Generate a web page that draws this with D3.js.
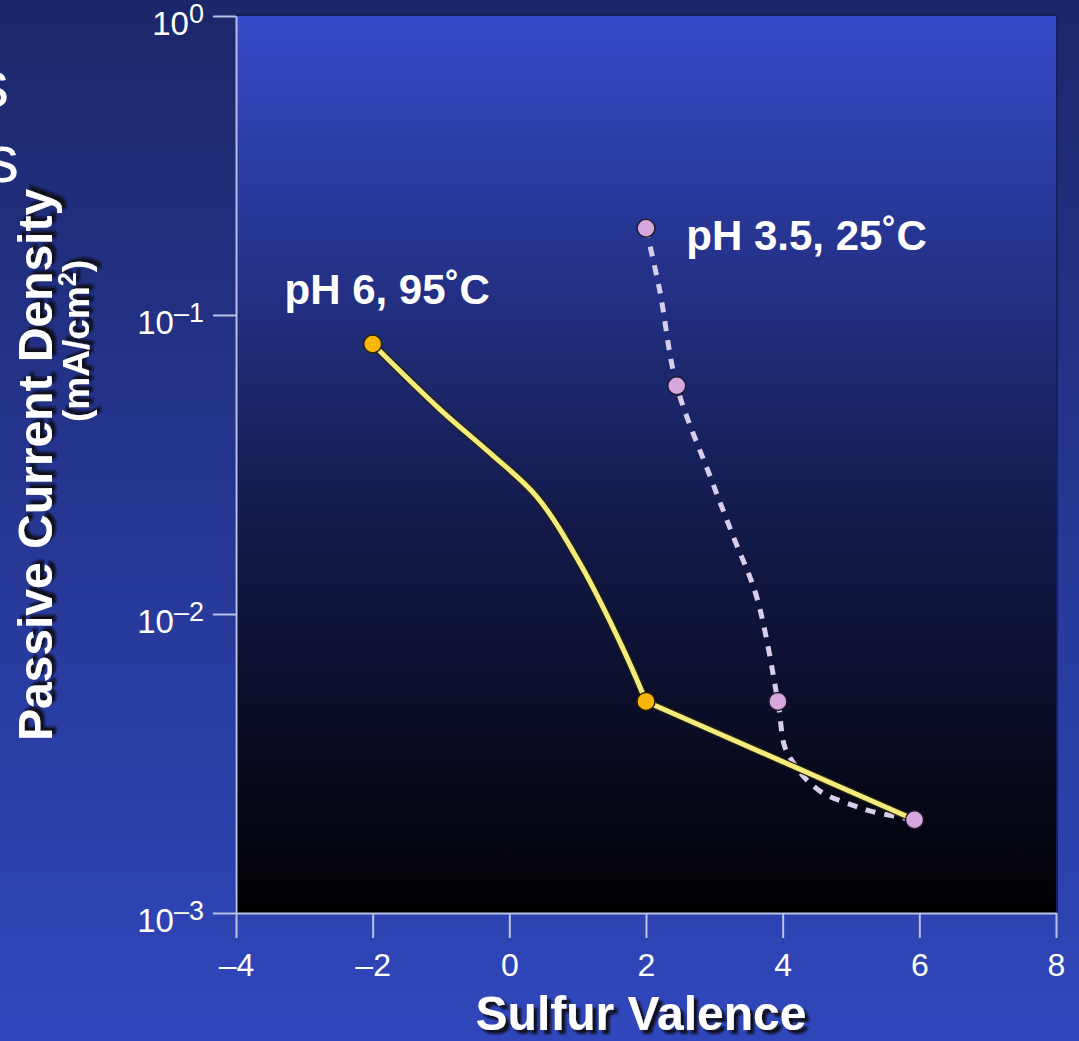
<!DOCTYPE html>
<html>
<head>
<meta charset="utf-8">
<script src="https://cdn.jsdelivr.net/npm/d3@7"></script>
<style>
  html, body { margin: 0; padding: 0; overflow: hidden; }
  body { width: 1079px; height: 1041px; }
  text { font-family: "Liberation Sans", Arial, Helvetica, sans-serif; fill: #fff; }
  .tick text { font-size: 32px; }
</style>
</head>
<body>
<div id="chart"></div>
<script>
var svgWidth = 1079;
var svgHeight = 1041;

var margin = { top: 16, right: 23, bottom: 128, left: 236 };
var width = svgWidth - margin.left - margin.right;
var height = svgHeight - margin.top - margin.bottom;

// tick values
var xTicks = [-4, -2, 0, 2, 4, 6, 8];
var yTicks = [1, 0.1, 0.01, 0.001];

// pH 6, 95˚C  (solid yellow)
var hotPointsX = [-2, 2];
var hotPointsY = [0.08, 0.0051];
// curved part
var hotCurveX = [-2, -1.0, -0.28, 0.4, 1.03, 1.67, 2];
var hotCurveY = [0.08, 0.048, 0.0345, 0.0247, 0.0148, 0.0076, 0.0051];
// straight tail
var hotTailX = [2, 5.93];
var hotTailY = [0.0051, 0.00205];

// pH 3.5, 25˚C  (dashed lavender)
var coldPointsX = [2.0, 2.45, 3.93, 5.93];
var coldPointsY = [0.195, 0.058, 0.0051, 0.00205];
var coldLineX = [2.0, 2.2, 2.45, 2.94, 3.28, 3.62, 3.93, 4.03, 4.16, 4.35, 4.6, 4.94, 5.33, 5.93];
var coldLineY = [0.195, 0.121, 0.058, 0.0288, 0.0181, 0.0114, 0.0051, 0.0036, 0.00317, 0.00279, 0.00251, 0.00233, 0.00218, 0.00205];

var svg = d3.select("#chart")
  .append("svg")
  .attr("width", svgWidth)
  .attr("height", svgHeight);

var defs = svg.append("defs");

var bg = defs.append("linearGradient").attr("id", "bgGrad")
  .attr("x1", 0).attr("y1", 0).attr("x2", 0).attr("y2", 1);
bg.append("stop").attr("offset", "0%").attr("stop-color", "#1c276a");
bg.append("stop").attr("offset", "100%").attr("stop-color", "#3047bc");

var plotGrad = defs.append("linearGradient").attr("id", "plotGrad")
  .attr("x1", 0).attr("y1", 0).attr("x2", 0).attr("y2", 1);
plotGrad.append("stop").attr("offset", "0%").attr("stop-color", "#364ac9");
plotGrad.append("stop").attr("offset", "55%").attr("stop-color", "#141b4d");
plotGrad.append("stop").attr("offset", "100%").attr("stop-color", "#010103");

var shadow = defs.append("filter").attr("id", "shadow")
  .attr("x", "-10%").attr("y", "-10%").attr("width", "130%").attr("height", "130%");
shadow.append("feDropShadow")
  .attr("dx", 4).attr("dy", 4).attr("stdDeviation", 1.2)
  .attr("flood-color", "#0a0a14").attr("flood-opacity", 0.95);

svg.append("rect")
  .attr("width", svgWidth).attr("height", svgHeight)
  .attr("fill", "url(#bgGrad)");

// cut-off slide text on the left edge
svg.append("text").attr("x", 9).attr("y", 107)
  .attr("text-anchor", "end").style("font-size", "66px").text("s");
svg.append("text").attr("x", 19).attr("y", 182)
  .attr("text-anchor", "end").style("font-size", "66px").text("s");

var chartGroup = svg.append("g")
  .attr("transform", `translate(${margin.left}, ${margin.top})`);

var xScale = d3.scaleLinear()
  .domain([-4, 8])
  .range([0, width]);

var yScale = d3.scaleLog()
  .domain([0.001, 1])
  .range([height, 0]);

// plot panel
chartGroup.append("rect")
  .attr("x", -1).attr("y", -2)
  .attr("width", width + 3).attr("height", height + 2)
  .attr("fill", "#16205a");
chartGroup.append("rect")
  .attr("width", width).attr("height", height)
  .attr("fill", "url(#plotGrad)");

// axes
var bottomAxis = d3.axisBottom(xScale)
  .tickValues(xTicks)
  .tickSize(25)
  .tickSizeOuter(0)
  .tickPadding(8)
  .tickFormat(d => d < 0 ? "\u2013" + Math.abs(d) : d);

var leftAxis = d3.axisLeft(yScale)
  .tickValues(yTicks)
  .tickSize(23)
  .tickSizeOuter(0)
  .tickFormat("");

var xAxisG = chartGroup.append("g")
  .attr("transform", `translate(0, ${height})`)
  .call(bottomAxis);

var yAxisG = chartGroup.append("g")
  .call(leftAxis);

[xAxisG, yAxisG].forEach(function(g) {
  g.select(".domain").attr("stroke", "#b9c1e6").attr("stroke-width", 2);
  g.selectAll(".tick line").attr("stroke", "#b9c1e6").attr("stroke-width", 2);
});
xAxisG.selectAll(".tick text").attr("fill", "#fff").style("font-size", "32px").attr("dy", "0.95em");

// y tick labels as 10^n
yAxisG.selectAll(".tick").each(function(d) {
  var exp = Math.round(Math.log10(d));
  var t = d3.select(this).append("text")
    .attr("x", -32)
    .attr("y", 18)
    .attr("text-anchor", "end")
    .attr("fill", "#fff");
  t.append("tspan").style("font-size", "33px").text("10");
  t.append("tspan").style("font-size", "27px").attr("dy", -12)
    .text(exp < 0 ? "\u2013" + Math.abs(exp) : exp);
});

// series lines
var coldLine = coldLineX.map((v, i) => [v, coldLineY[i]]);
var hotCurve = hotCurveX.map((v, i) => [v, hotCurveY[i]]);
var hotTail = hotTailX.map((v, i) => [v, hotTailY[i]]);

var smoothLine = d3.line()
  .x(d => xScale(d[0]))
  .y(d => yScale(d[1]))
  .curve(d3.curveCatmullRom.alpha(0.5));

chartGroup.append("path")
  .datum(coldLine)
  .attr("d", smoothLine)
  .attr("fill", "none")
  .attr("stroke", "#d8cdea")
  .attr("stroke-width", 5)
  .attr("stroke-dasharray", "10,9");

var hotPaths = [smoothLine(hotCurve), d3.line().x(d => xScale(d[0])).y(d => yScale(d[1]))(hotTail)];
[["#2a2410", 7.5], ["#f3eb7c", 5]].forEach(function(s) {
  chartGroup.selectAll(null)
    .data(hotPaths)
    .enter()
    .append("path")
    .attr("d", d => d)
    .attr("fill", "none")
    .attr("stroke", s[0])
    .attr("stroke-width", s[1])
    .attr("stroke-linejoin", "round");
});

// markers
chartGroup.selectAll("circle.hot")
  .data(hotPointsX.map((v, i) => [v, hotPointsY[i]]))
  .enter()
  .append("circle")
  .attr("class", "hot")
  .attr("cx", d => xScale(d[0]))
  .attr("cy", d => yScale(d[1]))
  .attr("r", 9)
  .attr("fill", "#f8b60a")
  .attr("stroke", "#2b2208")
  .attr("stroke-width", 1.5);

chartGroup.selectAll("circle.cold")
  .data(coldPointsX.map((v, i) => [v, coldPointsY[i]]))
  .enter()
  .append("circle")
  .attr("class", "cold")
  .attr("cx", d => xScale(d[0]))
  .attr("cy", d => yScale(d[1]))
  .attr("r", 9)
  .attr("fill", "#d6a7dd")
  .attr("stroke", "#201a30")
  .attr("stroke-width", 1.5);

// series labels
chartGroup.append("text")
  .attr("x", xScale(-3.29))
  .attr("y", 288)
  .style("font-size", "42px")
  .style("font-weight", "bold")
  .text("pH 6, 95˚C");

chartGroup.append("text")
  .attr("x", xScale(2.59))
  .attr("y", 234)
  .style("font-size", "42px")
  .style("font-weight", "bold")
  .text("pH 3.5, 25˚C");

// axis titles
svg.append("text")
  .attr("x", 641)
  .attr("y", 1030)
  .attr("text-anchor", "middle")
  .attr("filter", "url(#shadow)")
  .style("font-size", "48px")
  .style("font-weight", "bold")
  .text("Sulfur Valence");

svg.append("text")
  .attr("transform", "translate(52, 465) rotate(-90)")
  .attr("text-anchor", "middle")
  .attr("filter", "url(#shadow)")
  .style("font-size", "48px")
  .style("font-weight", "bold")
  .text("Passive Current Density");

var unit = svg.append("text")
  .attr("transform", "translate(89, 341) rotate(-90)")
  .attr("text-anchor", "middle")
  .attr("filter", "url(#shadow)")
  .style("font-size", "37px")
  .style("font-weight", "bold");
unit.append("tspan").text("(mA/cm");
unit.append("tspan").style("font-size", "25px").attr("dy", -13).text("2");
unit.append("tspan").attr("dy", 13).text(")");
</script>
</body>
</html>
